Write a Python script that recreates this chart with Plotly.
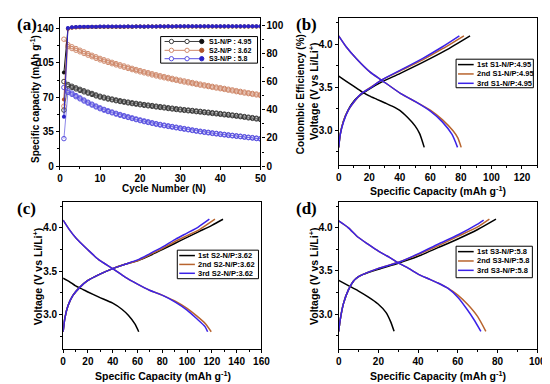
import plotly.graph_objects as go

W, H = 550, 384

# ---------------- Panel (a) data: cycling ----------------
cycles = list(range(1, 51))
s1_dis = [57.0, 81.5, 80.0, 78.5, 77.0, 75.5, 74.2, 72.9, 71.4, 70.2, 69.2, 68.2, 67.4, 66.5, 65.7, 65.0, 64.3, 63.6, 63.0, 62.4,
          61.8, 61.3, 60.8, 60.2, 59.7, 59.2, 58.6, 58.1, 57.6, 57.1, 56.7, 56.3, 55.9, 55.4, 55.0, 54.5, 54.1, 53.6, 53.2, 52.7,
          52.2, 51.8, 51.3, 50.8, 50.3, 49.7, 49.1, 48.6, 48.0, 47.4]
s1_chg = [86.0, 83.0, 81.2, 79.6, 78.1, 76.6, 75.2, 73.9, 72.4, 71.1, 70.1, 69.1, 68.2, 67.3, 66.5, 65.8, 65.1, 64.4, 63.8, 63.2,
          62.6, 62.1, 61.6, 61.0, 60.5, 60.0, 59.4, 58.9, 58.4, 57.9, 57.4, 57.0, 56.6, 56.1, 55.7, 55.2, 54.8, 54.3, 53.9, 53.4,
          52.9, 52.5, 52.0, 51.5, 51.0, 50.4, 49.8, 49.3, 48.7, 48.1]
s1_ce = [66.3, 97.6, 98.2, 98.4, 98.5, 98.6, 98.6, 98.7, 98.6, 98.7, 98.7, 98.8, 98.7, 98.8, 98.8, 98.8, 98.9, 98.8, 98.9, 98.9,
         98.8, 98.9, 98.9, 98.9, 98.9, 98.9, 99.0, 98.9, 98.9, 99.0, 99.0, 98.9, 99.0, 99.0, 99.0, 99.0, 98.9, 99.0, 99.0, 99.0,
         99.0, 99.0, 99.0, 99.0, 99.0, 99.0, 99.0, 99.0, 99.0, 99.0]

s2_dis = [61.0, 121.5, 119.5, 117.8, 116.2, 114.5, 112.8, 111.2, 109.6, 108.0, 106.7, 105.4, 104.1, 102.9, 101.7, 100.5, 99.3, 98.1, 96.9, 95.8,
          94.8, 93.8, 92.7, 91.7, 90.7, 89.8, 88.9, 88.0, 87.2, 86.3, 85.5, 84.7, 83.9, 83.1, 82.3, 81.6, 80.9, 80.1, 79.4, 78.7,
          78.0, 77.2, 76.5, 75.7, 75.0, 74.3, 73.7, 73.0, 72.4, 71.7]
s2_chg = [129.0, 123.4, 121.3, 119.5, 117.8, 116.1, 114.4, 112.7, 111.1, 109.5, 108.1, 106.8, 105.5, 104.2, 103.0, 101.8, 100.6, 99.4, 98.2, 97.1,
          96.0, 95.0, 93.9, 92.9, 91.9, 91.0, 90.1, 89.2, 88.3, 87.4, 86.6, 85.8, 85.0, 84.2, 83.4, 82.6, 81.9, 81.1, 80.4, 79.7,
          79.0, 78.2, 77.5, 76.7, 76.0, 75.3, 74.6, 73.9, 73.3, 72.6]
s2_ce = [47.3, 97.4, 98.1, 98.3, 98.4, 98.5, 98.6, 98.6, 98.7, 98.7, 98.7, 98.7, 98.8, 98.8, 98.8, 98.8, 98.8, 98.8, 98.9, 98.9,
         98.9, 98.9, 98.9, 98.9, 98.9, 98.9, 98.9, 98.9, 98.9, 98.9, 99.0, 98.9, 99.0, 99.0, 99.0, 99.0, 99.0, 99.0, 99.0, 99.0,
         99.0, 99.0, 99.0, 99.0, 99.0, 99.0, 99.0, 99.0, 99.0, 99.0]

s3_dis = [28.0, 75.0, 73.0, 70.6, 68.4, 66.2, 64.1, 62.1, 60.2, 58.4, 56.9, 55.5, 54.2, 52.9, 51.7, 50.6, 49.5, 48.4, 47.3, 46.3,
          45.3, 44.4, 43.5, 42.6, 41.8, 41.1, 40.4, 39.7, 39.0, 38.3, 37.6, 37.0, 36.3, 35.6, 35.0, 34.4, 33.9, 33.3, 32.8, 32.3,
          31.8, 31.3, 30.9, 30.4, 30.0, 29.5, 29.0, 28.6, 28.1, 27.6]
s3_chg = [80.0, 76.4, 74.2, 71.7, 69.4, 67.2, 65.0, 63.0, 61.1, 59.3, 57.7, 56.3, 55.0, 53.7, 52.5, 51.3, 50.2, 49.1, 48.0, 47.0,
          46.0, 45.1, 44.1, 43.2, 42.4, 41.7, 41.0, 40.3, 39.6, 38.9, 38.2, 37.5, 36.8, 36.1, 35.5, 34.9, 34.4, 33.8, 33.3, 32.8,
          32.3, 31.8, 31.3, 30.8, 30.4, 29.9, 29.4, 29.0, 28.5, 28.0]
s3_ce = [35.0, 97.9, 98.4, 98.6, 98.7, 98.7, 98.8, 98.8, 98.8, 98.9, 98.9, 98.9, 98.9, 98.9, 99.0, 98.9, 99.0, 99.0, 99.0, 99.0,
         99.0, 99.0, 99.0, 99.0, 99.1, 99.0, 99.1, 99.0, 99.1, 99.1, 99.1, 99.1, 99.1, 99.1, 99.1, 99.1, 99.1, 99.1, 99.1, 99.1,
         99.1, 99.1, 99.1, 99.1, 99.1, 99.1, 99.1, 99.1, 99.1, 99.1]

a_labels = ["S1-N/P : 4.95", "S2-N/P : 3.62", "S3-N/P : 5.8"]

# ---------------- Panel (b) data: S1 ----------------
b1c_x = [0, 1, 3, 6, 10, 15, 20, 28, 40, 55, 70, 86]
b1c_y = [2.80, 2.95, 3.10, 3.23, 3.34, 3.42, 3.48, 3.56, 3.66, 3.79, 3.93, 4.10]
b1d_x = [0, 5, 10, 15, 20, 25, 30, 35, 40, 45, 50, 53, 56]
b1d_y = [3.63, 3.57, 3.51, 3.45, 3.40, 3.36, 3.32, 3.28, 3.23, 3.15, 3.05, 2.96, 2.80]
b2c_x = [0, 1, 3, 6.5, 11, 15, 20, 28, 40, 55, 68, 82]
b2c_y = [2.80, 2.95, 3.10, 3.24, 3.35, 3.43, 3.49, 3.585, 3.69, 3.82, 3.95, 4.10]
b2d_x = [0, 5, 11.8, 20.4, 28, 40.4, 50.5, 60.2, 68, 75, 78, 80.2]
b2d_y = [4.10, 3.97, 3.83, 3.68, 3.585, 3.43, 3.33, 3.23, 3.12, 2.99, 2.91, 2.80]
b3c_x = [0, 1, 3.2, 6.5, 10.8, 15, 20.4, 28, 40.4, 54.8, 67.7, 79]
b3c_y = [2.80, 2.95, 3.10, 3.24, 3.35, 3.43, 3.49, 3.585, 3.70, 3.835, 3.97, 4.10]
b3d_x = [0, 5, 11.8, 20.4, 28, 40.4, 50.5, 60.2, 67.7, 74.2, 77.8]
b3d_y = [4.10, 3.97, 3.83, 3.68, 3.585, 3.43, 3.33, 3.22, 3.10, 2.95, 2.80]
b_labels = ["1st S1-N/P:4.95", "2nd S1-N/P:4.95", "3rd S1-N/P:4.95"]

# ---------------- Panel (c) data: S2 ----------------
c1c_x = [0, 1.3, 3.9, 7.9, 13.2, 19.7, 28.9, 40, 50, 60, 70, 80, 90, 100, 110, 120, 129]
c1c_y = [2.80, 2.95, 3.10, 3.22, 3.31, 3.39, 3.46, 3.53, 3.58, 3.62, 3.68, 3.75, 3.82, 3.89, 3.96, 4.03, 4.10]
c1d_x = [0, 5, 10, 15.8, 20, 28.9, 40, 47.4, 52.6, 57.9, 61]
c1d_y = [3.42, 3.38, 3.33, 3.29, 3.26, 3.20, 3.13, 3.06, 2.99, 2.89, 2.80]
c2c_x = [0, 1.3, 3.9, 7.9, 13.2, 19.7, 28.9, 40, 50, 60, 70, 80, 90, 100, 110, 122.5]
c2c_y = [2.80, 2.95, 3.10, 3.22, 3.31, 3.39, 3.46, 3.53, 3.58, 3.62, 3.69, 3.76, 3.84, 3.91, 3.98, 4.10]
c2d_x = [0, 5, 10.5, 19.7, 28.9, 40, 50, 60, 69.7, 80.3, 90.8, 100, 108, 115, 119.5]
c2d_y = [4.09, 3.98, 3.88, 3.75, 3.63, 3.53, 3.43, 3.35, 3.28, 3.22, 3.15, 3.07, 2.98, 2.89, 2.80]
c3c_x = [0, 1.3, 3.9, 7.9, 13.2, 19.7, 28.9, 40, 50, 60, 69.7, 80.3, 90.8, 100, 109, 118]
c3c_y = [2.80, 2.95, 3.10, 3.22, 3.31, 3.39, 3.46, 3.53, 3.58, 3.63, 3.70, 3.78, 3.87, 3.94, 4.01, 4.10]
c3d_x = [0, 5, 10.5, 19.7, 28.9, 40, 50, 60, 69.7, 80.3, 90.8, 100, 107.9, 114.5, 116.6]
c3d_y = [4.09, 3.98, 3.88, 3.75, 3.63, 3.53, 3.43, 3.35, 3.28, 3.22, 3.14, 3.05, 2.95, 2.86, 2.80]
c_labels = ["1st S2-N/P:3.62", "2nd S2-N/P:3.62", "3rd S2-N/P:3.62"]

# ---------------- Panel (d) data: S3 ----------------
d1c_x = [0, 0.8, 2.5, 4.9, 7.4, 9.8, 12.3, 20, 30, 40, 50, 60, 70, 79.2]
d1c_y = [2.80, 2.94, 3.13, 3.28, 3.38, 3.43, 3.46, 3.52, 3.59, 3.67, 3.77, 3.87, 3.98, 4.10]
d1d_x = [0, 4.9, 9.8, 14.8, 19.7, 23.8, 26.2, 27.9]
d1d_y = [3.39, 3.33, 3.27, 3.20, 3.12, 3.02, 2.91, 2.80]
d2c_x = [0, 0.8, 2.5, 4.9, 7.4, 9.8, 12.3, 20, 30, 40, 50, 60, 70, 75.9]
d2c_y = [2.80, 2.94, 3.13, 3.28, 3.38, 3.43, 3.46, 3.53, 3.60, 3.69, 3.79, 3.90, 4.01, 4.10]
d2d_x = [0, 4.9, 9.8, 14.8, 20, 25.4, 30.3, 35.2, 40.2, 45.1, 50, 55, 60, 65, 70, 74.1]
d2d_y = [4.08, 4.00, 3.89, 3.81, 3.73, 3.66, 3.59, 3.53, 3.46, 3.41, 3.36, 3.30, 3.22, 3.11, 2.97, 2.80]
d3c_x = [0, 0.8, 2.5, 4.9, 7.4, 9.8, 12.3, 20, 30.3, 40.2, 50, 60.2, 69.7, 73]
d3c_y = [2.80, 2.94, 3.13, 3.28, 3.38, 3.43, 3.46, 3.53, 3.60, 3.70, 3.81, 3.92, 4.04, 4.09]
d3d_x = [0, 4.9, 9.8, 14.8, 20, 25.4, 30.3, 35.2, 40.2, 45.1, 50, 54.9, 60.2, 64.8, 68, 71.6]
d3d_y = [4.08, 4.00, 3.89, 3.81, 3.73, 3.66, 3.59, 3.53, 3.46, 3.41, 3.36, 3.30, 3.19, 3.05, 2.94, 2.80]
d_labels = ["1st S3-N/P:5.8", "2nd S3-N/P:5.8", "3rd S3-N/P:5.8"]

# ---------------- styling ----------------
SANS = "Liberation Sans, Arial, sans-serif"
SERIF = "Liberation Serif, Times New Roman, serif"
cyc_open = ["#3c3c3c", "#d08a6c", "#5a52e0"]
cyc_fill = ["#111111", "#b0552c", "#2a22c8"]
v_cols = ["#000000", "#b8642e", "#3b22e8"]


def PX(x):
    return x / W


def PY(y):
    return 1 - y / H


fig = go.Figure()

# Panel (a)
caps = [(s1_chg, s1_dis), (s2_chg, s2_dis), (s3_chg, s3_dis)]
for i, (chg, dis) in enumerate(caps):
    for arr in (chg, dis):
        fig.add_trace(go.Scatter(
            x=cycles, y=arr, mode="lines+markers", xaxis="x", yaxis="y", showlegend=False,
            line=dict(color=cyc_open[i], width=0.7),
            marker=dict(symbol="circle-open", size=4.5, color=cyc_open[i], line=dict(width=1))))
for i, ce in enumerate([s1_ce, s2_ce, s3_ce]):
    fig.add_trace(go.Scatter(
        x=cycles, y=ce, mode="lines+markers", xaxis="x", yaxis="y5", showlegend=False,
        line=dict(color=cyc_fill[i], width=1),
        marker=dict(symbol="circle", size=4, color=cyc_fill[i])))

# Panels (b)-(d)
panels = [
    ("x2", "y2", [(b1c_x, b1c_y, b1d_x, b1d_y), (b2c_x, b2c_y, b2d_x, b2d_y), (b3c_x, b3c_y, b3d_x, b3d_y)]),
    ("x3", "y3", [(c1c_x, c1c_y, c1d_x, c1d_y), (c2c_x, c2c_y, c2d_x, c2d_y), (c3c_x, c3c_y, c3d_x, c3d_y)]),
    ("x4", "y4", [(d1c_x, d1c_y, d1d_x, d1d_y), (d2c_x, d2c_y, d2d_x, d2d_y), (d3c_x, d3c_y, d3d_x, d3d_y)]),
]
for xa, ya, curves in panels:
    for i, (cx, cy, dx, dy) in enumerate(curves):
        for xx, yy in ((cx, cy), (dx, dy)):
            fig.add_trace(go.Scatter(
                x=xx, y=yy, mode="lines", xaxis=xa, yaxis=ya, showlegend=False,
                line=dict(color=v_cols[i], width=1.5, shape="spline", smoothing=0.6)))

tickfont = dict(family=SANS, size=10, color="black", weight="bold")
base = dict(showline=True, linecolor="black", linewidth=1.2, mirror=True, ticks="outside",
            ticklen=3, tickwidth=1.2, tickcolor="black", showgrid=False, zeroline=False,
            tickfont=tickfont)


def ax(domain, rng, tickvals, minor_dtick, anchor, fmt=None, **kw):
    d = dict(base)
    d.update(domain=domain, range=rng, tickvals=tickvals, anchor=anchor,
             minor=dict(ticks="outside", ticklen=2, tickwidth=1, tickcolor="black", dtick=minor_dtick, showgrid=False))
    if fmt:
        d["tickformat"] = fmt
    d.update(kw)
    return d


# domains (pixels -> paper)
a_x = [PX(50), PX(255)]
a_y = [PY(160.7), PY(10)]
b_x = [PX(335), PX(538)]
b_y = [PY(159), PY(10)]
c_x = [PX(53.3), PX(256)]
c_y = [PY(346.5), PY(197)]
d_x = [PX(335), PX(538)]
d_y = [PY(346), PY(197)]

vt = [3.0, 3.5, 4.0]
fig.update_layout(
    width=W, height=H, margin=dict(l=0, r=0, t=0, b=0),
    paper_bgcolor="white", plot_bgcolor="white", showlegend=False,
    xaxis=ax(a_x, [0, 50], [0, 10, 20, 30, 40, 50], 5, "y"),
    yaxis=ax(a_y, [0, 150.7], [0, 35, 70, 105, 140], 17.5, "x"),
    yaxis5=ax(a_y, [0, 105.1], [0, 20, 40, 60, 80, 100], 10, "x", overlaying="y", side="right", mirror=False),
    xaxis2=ax(b_x, [0, 130], [0, 20, 40, 60, 80, 100, 120], 10, "y2"),
    yaxis2=ax(b_y, [2.6, 4.31], vt, 0.25, "x2", fmt=".1f"),
    xaxis3=ax(c_x, [0, 160], [0, 20, 40, 60, 80, 100, 120, 140, 160], 10, "y3"),
    yaxis3=ax(c_y, [2.6, 4.3], vt, 0.25, "x3", fmt=".1f"),
    xaxis4=ax(d_x, [0, 100], [0, 20, 40, 60, 80, 100], 10, "y4"),
    yaxis4=ax(d_y, [2.6, 4.3], vt, 0.25, "x4", fmt=".1f"),
)

ann = []
shapes = []
tfont = dict(family=SANS, size=10.5, color="black", weight="bold")


def text(x, y, s, font, angle=0, xanchor="center"):
    ann.append(dict(x=PX(x), y=PY(y), xref="paper", yref="paper", text=s, showarrow=False,
                    font=font, textangle=angle, xanchor=xanchor, yanchor="middle"))


# panel labels
lfont = dict(family=SERIF, size=17, color="black", weight="bold")
text(16, 17, "(a)", lfont)
text(302, 17, "(b)", lfont)
text(16, 204, "(c)", lfont)
text(302, 204, "(d)", lfont)

# axis titles
cap_title = "Specific Capacity (mAh g<sup>-1</sup>)"
volt_title = "Voltage (V vs Li/Li<sup>+</sup>)"
text(24, 92, "Specific capacity (mAh g<sup>-1</sup>)", dict(family=SANS, size=10, color="black", weight="bold"), angle=-90)
text(296, 88, "Coulombic Efficiency (%)", dict(family=SANS, size=10, color="black", weight="bold"), angle=-90)
text(156, 183, "Cycle Number (N)", dict(family=SANS, size=10, color="black", weight="bold"))
text(437, 185, cap_title, tfont)
text(309, 85, volt_title, tfont, angle=-90)
text(155, 373, cap_title, tfont)
text(27, 273, volt_title, tfont, angle=-90)
text(437, 373, cap_title, tfont)
text(309, 273, volt_title, tfont, angle=-90)


# legends for (b)-(d)
def line_legend(x0, x1, y0, y1, rows, lx0, lx1, tx, labels):
    shapes.append(dict(type="rect", xref="paper", yref="paper", x0=PX(x0), x1=PX(x1), y0=PY(y1), y1=PY(y0),
                       line=dict(color="black", width=1), fillcolor="white"))
    for i, (ry, lab) in enumerate(zip(rows, labels)):
        shapes.append(dict(type="line", xref="paper", yref="paper", x0=PX(lx0), x1=PX(lx1), y0=PY(ry), y1=PY(ry),
                           line=dict(color=v_cols[i], width=1.5)))
        text(tx, ry, lab, dict(family=SANS, size=7.5, color="black", weight="bold"), xanchor="left")


line_legend(455, 534, 52, 81, [57.5, 67, 76.5], 457, 473, 474, b_labels)
line_legend(170, 253, 246, 275, [251.5, 260.5, 269.5], 172, 188, 189, c_labels)
line_legend(455, 533, 242, 274, [247.5, 257, 266.5], 457, 473, 474, d_labels)

# legend for (a)
shapes.append(dict(type="rect", xref="paper", yref="paper", x0=PX(153), x1=PX(252), y0=PY(56), y1=PY(29),
                   line=dict(color="black", width=1), fillcolor="white"))
r = 2.2
for i, (ry, lab) in enumerate(zip([34, 43, 51.5], a_labels)):
    shapes.append(dict(type="line", xref="paper", yref="paper", x0=PX(157), x1=PX(197), y0=PY(ry), y1=PY(ry),
                       line=dict(color=cyc_open[i], width=1)))
    for cx in (164, 180):
        shapes.append(dict(type="circle", xref="paper", yref="paper", x0=PX(cx - r), x1=PX(cx + r),
                           y0=PY(ry + r), y1=PY(ry - r), line=dict(color=cyc_open[i], width=1), fillcolor="white"))
    shapes.append(dict(type="circle", xref="paper", yref="paper", x0=PX(195 - r), x1=PX(195 + r),
                       y0=PY(ry + r), y1=PY(ry - r), line=dict(color=cyc_fill[i], width=1), fillcolor=cyc_fill[i]))
    text(200, ry, lab, dict(family=SANS, size=7, color="black", weight="bold"), xanchor="left")

fig.update_layout(annotations=ann, shapes=shapes)
fig.write_html("out.html")
